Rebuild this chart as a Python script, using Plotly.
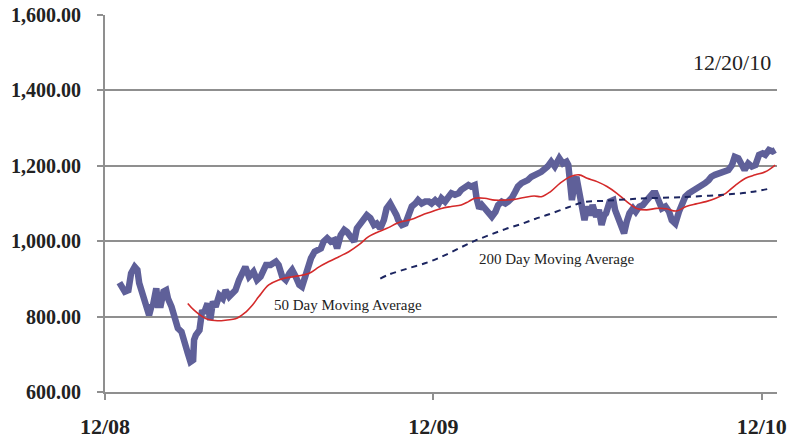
import plotly.graph_objects as go

# ---- data ----
price_dates = [
    "2008-12-17", "2008-12-23", "2008-12-27", "2008-12-30", "2009-01-03", "2009-01-06", "2009-01-08",
    "2009-01-12", "2009-01-16", "2009-01-19", "2009-01-22", "2009-01-23", "2009-01-27", "2009-01-29",
    "2009-02-01", "2009-02-04", "2009-02-07", "2009-02-09", "2009-02-13", "2009-02-17", "2009-02-20",
    "2009-02-24", "2009-02-28", "2009-03-03", "2009-03-06", "2009-03-09", "2009-03-10", "2009-03-12",
    "2009-03-16", "2009-03-19", "2009-03-21", "2009-03-25", "2009-03-28", "2009-03-31", "2009-04-03",
    "2009-04-07", "2009-04-11", "2009-04-14", "2009-04-18", "2009-04-22", "2009-04-25", "2009-04-29",
    "2009-05-03", "2009-05-06", "2009-05-10", "2009-05-15", "2009-05-19", "2009-05-23", "2009-05-29",
    "2009-06-03", "2009-06-09", "2009-06-12", "2009-06-16", "2009-06-20", "2009-06-24", "2009-06-27",
    "2009-07-01", "2009-07-05", "2009-07-08", "2009-07-12", "2009-07-14", "2009-07-18", "2009-07-22",
    "2009-07-25", "2009-07-29", "2009-08-01", "2009-08-05", "2009-08-09", "2009-08-13", "2009-08-16",
    "2009-08-20", "2009-08-24", "2009-08-27", "2009-08-31", "2009-09-04", "2009-09-07", "2009-09-11",
    "2009-09-15", "2009-09-18", "2009-09-22", "2009-09-26", "2009-09-29", "2009-10-03", "2009-10-07",
    "2009-10-10", "2009-10-14", "2009-10-18", "2009-10-21", "2009-10-23", "2009-10-27", "2009-10-31",
    "2009-11-03", "2009-11-07", "2009-11-11", "2009-11-14", "2009-11-18", "2009-11-22", "2009-11-26",
    "2009-11-29", "2009-12-03", "2009-12-07", "2009-12-10", "2009-12-14", "2009-12-18", "2009-12-21",
    "2009-12-25", "2009-12-29", "2010-01-01", "2010-01-05", "2010-01-09", "2010-01-12", "2010-01-16",
    "2010-01-18", "2010-01-21", "2010-01-24", "2010-01-28", "2010-02-01", "2010-02-04", "2010-02-08",
    "2010-02-11", "2010-02-15", "2010-02-19", "2010-02-22", "2010-02-26", "2010-03-02", "2010-03-05",
    "2010-03-09", "2010-03-13", "2010-03-16", "2010-03-20", "2010-03-24", "2010-03-31", "2010-04-07",
    "2010-04-11", "2010-04-15", "2010-04-20", "2010-04-24", "2010-04-28", "2010-04-30", "2010-05-03",
    "2010-05-04", "2010-05-07", "2010-05-09", "2010-05-11", "2010-05-14", "2010-05-16", "2010-05-18",
    "2010-05-21", "2010-05-24", "2010-05-27", "2010-05-31", "2010-06-03", "2010-06-06", "2010-06-09",
    "2010-06-11", "2010-06-15", "2010-06-19", "2010-06-21", "2010-06-24", "2010-06-28", "2010-07-01",
    "2010-07-04", "2010-07-07", "2010-07-11", "2010-07-14", "2010-07-18", "2010-07-22", "2010-07-25",
    "2010-07-29", "2010-08-02", "2010-08-05", "2010-08-09", "2010-08-12", "2010-08-16", "2010-08-20",
    "2010-08-23", "2010-08-27", "2010-08-31", "2010-09-03", "2010-09-07", "2010-09-11", "2010-09-14",
    "2010-09-18", "2010-09-22", "2010-09-25", "2010-09-29", "2010-10-03", "2010-10-06", "2010-10-10",
    "2010-10-14", "2010-10-18", "2010-10-21", "2010-10-25", "2010-10-29", "2010-11-01", "2010-11-05",
    "2010-11-09", "2010-11-12", "2010-11-16", "2010-11-20", "2010-11-24", "2010-11-28", "2010-12-02",
    "2010-12-05", "2010-12-09", "2010-12-13", "2010-12-16",
]
price_values = [
    890, 866, 870, 915, 932, 924, 889,
    857, 831, 804, 831, 826, 875, 831,
    831, 866, 870, 848, 826, 791, 769,
    760, 720, 703, 680, 685, 738, 751,
    764, 817, 809, 835, 791, 840, 826,
    857, 848, 870, 853, 862, 870, 897,
    915, 932, 906, 919, 897, 906, 937,
    937, 946, 937, 906, 897, 915, 924,
    906, 884, 879, 906, 932, 955, 972,
    977, 981, 999, 1008, 999, 1003, 981,
    1016, 1030, 1025, 1012, 999, 1034, 1047,
    1065, 1069, 1061, 1043, 1047, 1034, 1056,
    1087, 1100, 1085, 1069, 1056, 1043, 1047,
    1065, 1092, 1100, 1109, 1100, 1105, 1105,
    1100, 1109, 1100, 1114, 1105, 1118, 1127,
    1123, 1127, 1136, 1145, 1149, 1145, 1149,
    1114, 1087, 1096, 1083, 1074, 1065, 1078,
    1096, 1105, 1100, 1105, 1114, 1131, 1145,
    1154, 1158, 1162, 1171, 1176, 1184, 1198,
    1211, 1198, 1220, 1206, 1211, 1202, 1154,
    1109, 1154, 1171, 1145, 1114, 1078, 1056,
    1092, 1069, 1096, 1065, 1083, 1043, 1069,
    1074, 1105, 1109, 1083, 1065, 1034, 1021,
    1052, 1074, 1087, 1078, 1092, 1096, 1105,
    1118, 1127, 1127, 1100, 1087, 1092, 1078,
    1056, 1047, 1078, 1092, 1118, 1127, 1131,
    1140, 1145, 1149, 1154, 1162, 1171, 1176,
    1180, 1184, 1189, 1189, 1202, 1224, 1220,
    1206, 1189, 1206, 1198, 1202, 1229, 1233,
    1229, 1242, 1238, 1242,
]

ma50_dates = [
    "2009-03-03", "2009-03-10", "2009-03-18", "2009-03-25", "2009-04-05", "2009-04-16", "2009-04-25",
    "2009-05-05", "2009-05-14", "2009-05-21", "2009-06-01", "2009-06-12", "2009-06-23", "2009-07-04",
    "2009-07-16", "2009-07-27", "2009-08-07", "2009-08-18", "2009-08-29", "2009-09-09", "2009-09-20",
    "2009-10-01", "2009-10-12", "2009-10-21", "2009-10-27", "2009-11-07", "2009-11-18", "2009-11-29",
    "2009-12-10", "2009-12-21", "2010-01-01", "2010-01-09", "2010-01-16", "2010-01-27", "2010-02-07",
    "2010-02-18", "2010-03-01", "2010-03-12", "2010-03-23", "2010-03-31", "2010-04-10", "2010-04-21",
    "2010-05-02", "2010-05-12", "2010-05-21", "2010-06-01", "2010-06-12", "2010-06-23", "2010-07-04",
    "2010-07-15", "2010-07-26", "2010-08-06", "2010-08-17", "2010-08-28", "2010-09-08", "2010-09-19",
    "2010-09-30", "2010-10-11", "2010-10-22", "2010-11-02", "2010-11-13", "2010-11-24", "2010-12-05",
    "2010-12-16",
]
ma50_values = [
    835, 817, 802, 793, 789, 791, 794,
    809, 831, 853, 884, 897, 904, 908,
    915, 932, 946, 959, 972, 990, 1012,
    1025, 1036, 1047, 1052, 1058, 1069, 1078,
    1087, 1092, 1096, 1105, 1114, 1114, 1109,
    1109, 1111, 1116, 1120, 1118, 1131, 1154,
    1171, 1176, 1167, 1158, 1145, 1127, 1105,
    1087, 1083, 1087, 1086, 1080, 1092, 1099,
    1105, 1114, 1127, 1149, 1167, 1176, 1184,
    1202,
]

ma200_dates = [
    "2009-10-03", "2009-10-12", "2009-11-03", "2009-11-26", "2009-12-14", "2010-01-01", "2010-01-16",
    "2010-02-01", "2010-02-19", "2010-03-09", "2010-03-24", "2010-04-07", "2010-04-30", "2010-05-18",
    "2010-06-09", "2010-07-04", "2010-07-26", "2010-08-25", "2010-09-12", "2010-10-19", "2010-11-18",
    "2010-12-11",
]
ma200_values = [
    901, 911, 928, 945, 963, 984, 1001,
    1016, 1032, 1046, 1059, 1070, 1090, 1104,
    1107, 1111, 1114, 1116, 1118, 1123, 1130,
    1140,
]

x_tick_vals = ["2008-12-01", "2009-12-01", "2010-12-01"]
x_tick_text = ["12/08", "12/09", "12/10"]
y_tick_vals = [600, 800, 1000, 1200, 1400, 1600]
y_tick_text = ["600.00", "800.00", "1,000.00", "1,200.00", "1,400.00", "1,600.00"]

FONT = "Liberation Serif"
GRID = "#8f8f8f"

fig = go.Figure()
fig.add_trace(go.Scatter(x=price_dates, y=price_values, mode="lines",
                         line=dict(color="#5f6099", width=6.5), name="S&P 500"))
fig.add_trace(go.Scatter(x=ma50_dates, y=ma50_values, mode="lines",
                         line=dict(color="#d42a2a", width=1.6, shape="spline"),
                         name="50 Day Moving Average"))
fig.add_trace(go.Scatter(x=ma200_dates, y=ma200_values, mode="lines",
                         line=dict(color="#1c2560", width=2, dash="6px,5px", shape="spline"),
                         name="200 Day Moving Average"))

fig.add_annotation(x="2010-12-13", y=1475, xref="x", yref="y", text="12/20/10",
                   showarrow=False, xanchor="right", yanchor="middle",
                   font=dict(family=FONT, size=22, color="#222"))
fig.add_annotation(x="2009-06-05", y=831, xref="x", yref="y", text="50 Day Moving Average",
                   showarrow=False, xanchor="left", yanchor="middle",
                   font=dict(family=FONT, size=15, color="#222"))
fig.add_annotation(x="2010-01-18", y=953, xref="x", yref="y", text="200 Day Moving Average",
                   showarrow=False, xanchor="left", yanchor="middle",
                   font=dict(family=FONT, size=15, color="#222"))

fig.update_layout(
    width=798, height=438,
    margin=dict(l=105, r=21, t=15, b=46, autoexpand=False),
    paper_bgcolor="white", plot_bgcolor="white",
    showlegend=False,
    font=dict(family=FONT, color="#222"),
)
fig.update_xaxes(
    type="date", range=["2008-12-01", "2010-12-18"], automargin=False,
    tickmode="array", tickvals=x_tick_vals, ticktext=x_tick_text,
    showgrid=False, zeroline=False,
    showline=True, linecolor=GRID, linewidth=2,
    ticks="outside", ticklen=6, tickwidth=1.5, tickcolor=GRID,
    ticklabelstandoff=8,
    tickfont=dict(family=FONT, size=22, color="#222", weight="bold"),
)
fig.update_yaxes(
    range=[600, 1600], automargin=False,
    tickmode="array", tickvals=y_tick_vals, ticktext=y_tick_text,
    showgrid=True, gridcolor=GRID, gridwidth=1.6, zeroline=False,
    showline=True, linecolor=GRID, linewidth=2,
    ticks="outside", ticklen=6, tickwidth=1.6, tickcolor=GRID,
    ticklabelstandoff=12,
    tickfont=dict(family=FONT, size=20, color="#222", weight="bold"),
)

fig.write_html("out.html")
